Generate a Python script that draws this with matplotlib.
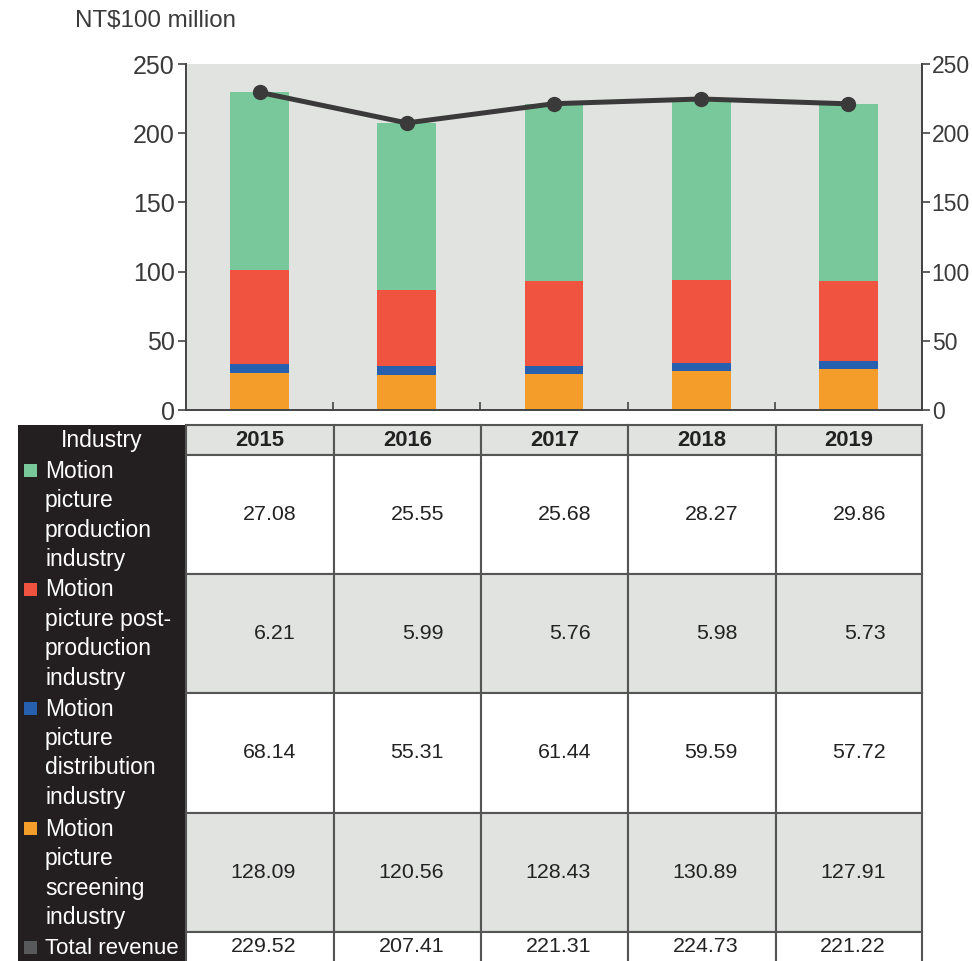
import matplotlib
matplotlib.use("Agg")
import matplotlib.pyplot as plt
from matplotlib.patches import Rectangle
from matplotlib.ticker import FixedLocator

plt.rcParams['font.family'] = ['Liberation Sans', 'DejaVu Sans']

years = ["2015", "2016", "2017", "2018", "2019"]
row_labels = [
    ["Motion", "picture", "production", "industry"],
    ["Motion", "picture post-", "production", "industry"],
    ["Motion", "picture", "distribution", "industry"],
    ["Motion", "picture", "screening", "industry"],
]
production = [27.08, 25.55, 25.68, 28.27, 29.86]
post_production = [6.21, 5.99, 5.76, 5.98, 5.73]
distribution = [68.14, 55.31, 61.44, 59.59, 57.72]
screening = [128.09, 120.56, 128.43, 130.89, 127.91]
total = [229.52, 207.41, 221.31, 224.73, 221.22]

series = [production, post_production, distribution, screening]
bar_colors = ["#f59d2a", "#2760ae", "#f05340", "#79c89b"]
label_colors = ["#79c89b", "#f05340", "#2760ae", "#f59d2a"]
total_color = "#58595b"
line_color = "#3a3a3a"
bg_gray = "#e1e3e1"
text_gray = "#3a3a3a"

W, H = 972, 961
fig = plt.figure(figsize=(W / 100, H / 100), dpi=100)

# --- chart ---
L, R, T, B = 186, 922, 64, 410
ax = fig.add_axes([L / W, 1 - B / H, (R - L) / W, (B - T) / H])
ax.set_facecolor(bg_gray)
x = list(range(len(years)))
bottom = [0.0] * len(years)
for vals, col in zip(series, bar_colors):
    ax.bar(x, vals, width=0.4, bottom=bottom, color=col, edgecolor="none", zorder=2)
    bottom = [b + v for b, v in zip(bottom, vals)]
ax.plot(x, total, color=line_color, lw=3.6, marker="o", ms=10, zorder=3)

ax.set_xlim(-0.5, len(years) - 0.5)
ax.set_ylim(0, 250)
ax.set_yticks([0, 50, 100, 150, 200, 250])
ax.set_xticks([])
ax.xaxis.set_minor_locator(FixedLocator([i + 0.5 for i in range(len(years) - 1)]))
ax.tick_params(axis="x", which="minor", direction="in", length=6, width=1.2, color="#444444")
ax.tick_params(axis="y", direction="out", length=6, width=1.2, color="#444444",
               labelsize=18, labelcolor=text_gray, pad=2)
ax.spines["top"].set_visible(False)
for s in ["left", "bottom", "right"]:
    ax.spines[s].set_color("#444444")
    ax.spines[s].set_linewidth(1.4)

ax2 = ax.twinx()
ax2.set_ylim(0, 250)
ax2.set_yticks([0, 50, 100, 150, 200, 250])
ax2.tick_params(axis="y", direction="out", length=6, width=1.2, color="#444444",
                labelsize=16.5, labelcolor=text_gray, pad=1)
for s in ["top", "left", "bottom"]:
    ax2.spines[s].set_visible(False)
ax2.spines["right"].set_color("#444444")
ax2.spines["right"].set_linewidth(1.4)

fig.text(75 / W, 1 - 21 / H, "NT$100 million", fontsize=17.4, color=text_gray,
         ha="left", va="center")

# --- data table ---
tx = fig.add_axes([0, 0, 1, 1])
tx.set_xlim(0, W)
tx.set_ylim(H, 0)
tx.axis("off")

col_edges = [186, 334, 481, 628, 776, 922]
row_edges = [425, 455, 574, 693, 813, 932, 990]
row_fills = [bg_gray, "white", bg_gray, "white", bg_gray, "white"]
dark = "#231f20"
grid_c = "#555555"

tx.add_patch(Rectangle((18, 425), 186 - 18, H - 425 + 5, facecolor=dark, edgecolor="none"))
for r in range(len(row_edges) - 1):
    y0, y1 = row_edges[r], row_edges[r + 1]
    for c in range(len(col_edges) - 1):
        tx.add_patch(Rectangle((col_edges[c], y0), col_edges[c + 1] - col_edges[c], y1 - y0,
                               facecolor=row_fills[r], edgecolor=grid_c, lw=1.5))

# header
tx.text(102, 440, "Industry", color="white", fontsize=16.5, ha="center", va="center")
for c, yr in enumerate(years):
    cx = (col_edges[c] + col_edges[c + 1]) / 2
    tx.text(cx, 440, yr, color="#222222", fontsize=15.8, fontweight="bold",
            ha="center", va="center")

# body rows
for r, (lines, vals, sq) in enumerate(zip(row_labels, series, label_colors)):
    y0, y1 = row_edges[r + 1], row_edges[r + 2]
    tx.add_patch(Rectangle((24, y0 + 9), 13, 13, facecolor=sq, edgecolor="none"))
    for k, ln in enumerate(lines):
        tx.text(45, y0 + 16 + k * 29.5, ln, color="white", fontsize=16.5,
                ha="left", va="center")
    cy = (y0 + y1) / 2
    for c, v in enumerate(vals):
        tx.text(col_edges[c] + 110, cy, f"{v:.2f}", color="#222222", fontsize=15.4,
                ha="right", va="center")

# total revenue row
tx.add_patch(Rectangle((24, 941), 13, 13, facecolor=total_color, edgecolor="none"))
tx.text(45, 948, "Total revenue", color="white", fontsize=16, ha="left", va="center")
for c, v in enumerate(total):
    tx.text(col_edges[c] + 110, 947, f"{v:.2f}", color="#222222", fontsize=15.4,
            ha="right", va="center")

fig.savefig("out.png", dpi=100)
